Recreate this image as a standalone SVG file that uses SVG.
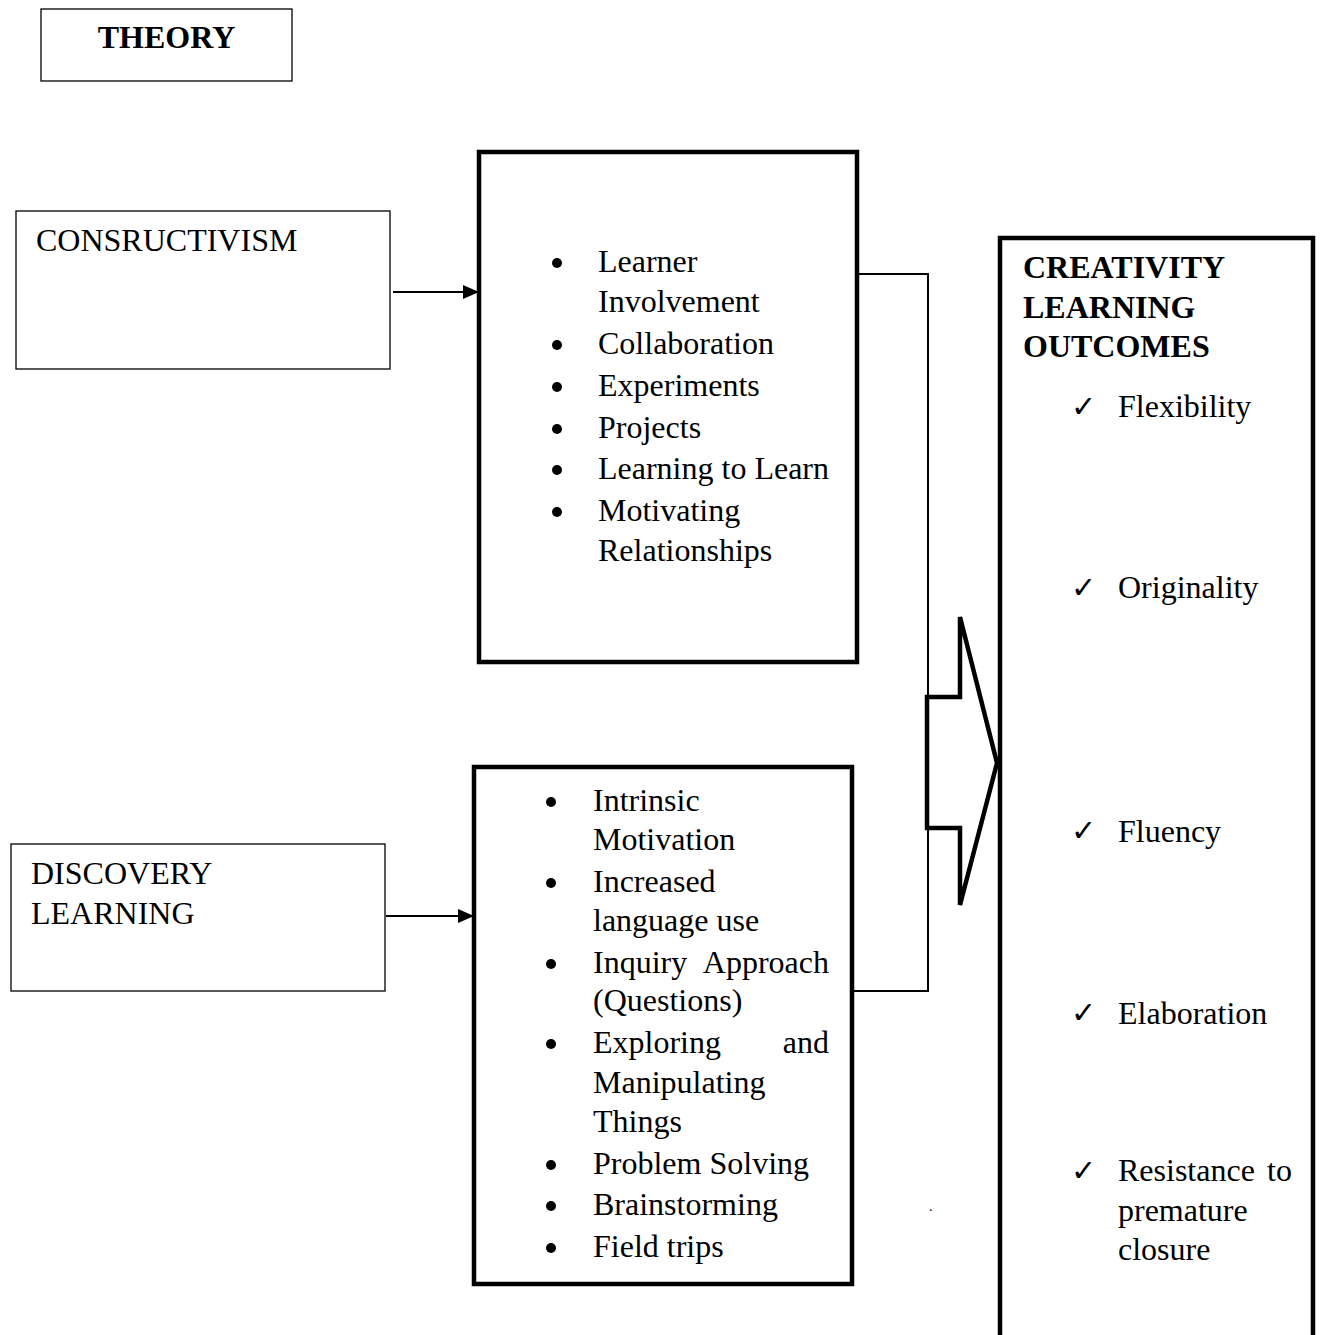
<svg xmlns="http://www.w3.org/2000/svg" width="1323" height="1335" viewBox="0 0 1323 1335">
<defs>
<style>
.t{font-family:"Liberation Serif","Times New Roman",serif;font-size:32px;fill:#000}
.b{font-weight:bold}
.thin{fill:#fff;stroke:#000;stroke-width:1.3}
.thick{fill:#fff;stroke:#000;stroke-width:4.5}
.ln{fill:none;stroke:#000;stroke-width:2}
.ck{font-family:"DejaVu Sans",sans-serif;font-size:30px;fill:#000}
</style>
<marker id="ah" markerWidth="16" markerHeight="14" refX="15" refY="7" orient="auto" markerUnits="userSpaceOnUse">
<path d="M0,0 L16,7 L0,14 Z" fill="#000"/>
</marker>
</defs>
<rect width="1323" height="1335" fill="#fff"/>

<g id="connectors">
<line class="ln" x1="393" y1="292" x2="478" y2="292" marker-end="url(#ah)"/>
<line class="ln" x1="386" y1="916" x2="473" y2="916" marker-end="url(#ah)"/>
<polyline class="ln" points="857,274 928,274 928,991 853,991"/>
<polygon id="block-arrow" points="927,697 960,697 960,617 997,763 960,905 960,828 927,828" fill="#fff" stroke="#000" stroke-width="4.5" stroke-linejoin="miter"/>
</g>

<g id="theory">
<rect class="thin" x="41" y="9" width="251" height="72"/>
<text class="t b" x="166.5" y="48" text-anchor="middle">THEORY</text>
</g>

<g id="constructivism">
<rect class="thin" x="16" y="211" width="374" height="158"/>
<text class="t" x="36" y="251">CONSRUCTIVISM</text>
</g>

<g id="discovery">
<rect class="thin" x="11" y="844" width="374" height="147"/>
<text class="t" x="31" y="884">DISCOVERY</text>
<text class="t" x="31" y="924">LEARNING</text>
</g>

<g id="constructivism-features">
<rect class="thick" x="479" y="152" width="378" height="510"/>
<g fill="#000">
<circle cx="557" cy="263" r="5"/>
<circle cx="557" cy="345" r="5"/>
<circle cx="557" cy="387" r="5"/>
<circle cx="557" cy="429" r="5"/>
<circle cx="557" cy="470" r="5"/>
<circle cx="557" cy="512" r="5"/>
</g>
<text class="t" x="598" y="272">Learner</text>
<text class="t" x="598" y="312">Involvement</text>
<text class="t" x="598" y="354">Collaboration</text>
<text class="t" x="598" y="396">Experiments</text>
<text class="t" x="598" y="438">Projects</text>
<text class="t" x="598" y="479">Learning to Learn</text>
<text class="t" x="598" y="521">Motivating</text>
<text class="t" x="598" y="561">Relationships</text>
</g>

<g id="discovery-features">
<rect class="thick" x="474" y="767" width="378" height="517"/>
<g fill="#000">
<circle cx="551" cy="802" r="5"/>
<circle cx="551" cy="883" r="5"/>
<circle cx="551" cy="964" r="5"/>
<circle cx="551" cy="1044" r="5"/>
<circle cx="551" cy="1165" r="5"/>
<circle cx="551" cy="1206" r="5"/>
<circle cx="551" cy="1248" r="5"/>
</g>
<text class="t" x="593" y="811">Intrinsic</text>
<text class="t" x="593" y="850">Motivation</text>
<text class="t" x="593" y="892">Increased</text>
<text class="t" x="593" y="931">language use</text>
<text class="t" x="593" y="973">Inquiry</text>
<text class="t" x="829" y="973" text-anchor="end">Approach</text>
<text class="t" x="593" y="1011">(Questions)</text>
<text class="t" x="593" y="1053">Exploring</text>
<text class="t" x="829" y="1053" text-anchor="end">and</text>
<text class="t" x="593" y="1093">Manipulating</text>
<text class="t" x="593" y="1132">Things</text>
<text class="t" x="593" y="1174">Problem Solving</text>
<text class="t" x="593" y="1215">Brainstorming</text>
<text class="t" x="593" y="1257">Field trips</text>
</g>

<g id="outcomes">
<path d="M1000,1345 L1000,238 L1313,238 L1313,1345" fill="#fff" stroke="#000" stroke-width="4.5"/>
<text class="t b" x="1023" y="278">CREATIVITY</text>
<text class="t b" x="1023" y="318">LEARNING</text>
<text class="t b" x="1023" y="357">OUTCOMES</text>
<text class="ck" x="1071" y="417">✓</text>
<text class="t" x="1118" y="417">Flexibility</text>
<text class="ck" x="1071" y="598">✓</text>
<text class="t" x="1118" y="598">Originality</text>
<text class="ck" x="1071" y="841">✓</text>
<text class="t" x="1118" y="842">Fluency</text>
<text class="ck" x="1071" y="1023">✓</text>
<text class="t" x="1118" y="1024">Elaboration</text>
<text class="ck" x="1071" y="1181">✓</text>
<text class="t" x="1118" y="1181">Resistance</text>
<text class="t" x="1292" y="1181" text-anchor="end">to</text>
<text class="t" x="1118" y="1221">premature</text>
<text class="t" x="1118" y="1260">closure</text>
</g>

<text class="t" x="929" y="1211" style="font-size:14px">.</text>
</svg>
